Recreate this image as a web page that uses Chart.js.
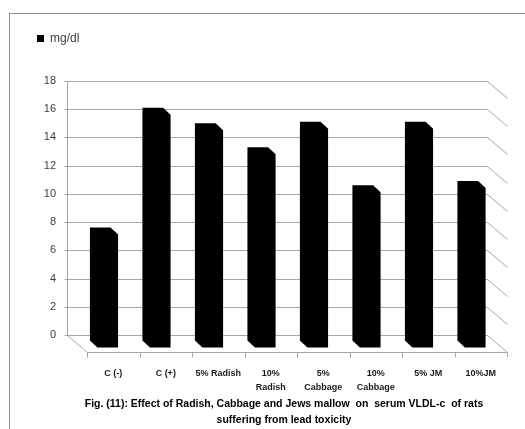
<!DOCTYPE html>
<html>
<head>
<meta charset="utf-8">
<title>Serum VLDL-c</title>
<script src="https://cdn.jsdelivr.net/npm/chart.js@4"></script>
<style>
  html, body { margin: 0; padding: 0; background: #fff; }
  #wrap { width: 525px; height: 429px; overflow: hidden; }
</style>
</head>
<body>
<div id="wrap"><canvas id="vldlChart" width="525" height="429"></canvas></div>
<script>
// groups on the x axis (arrays = two-line labels)
const groups = ['C (-)', 'C (+)', '5% Radish', ['10%', 'Radish'], ['5%', 'Cabbage'], ['10%', 'Cabbage'], '5% JM', '10%JM'];
// serum VLDL-c, mg/dl
const vldl = [8.0, 16.5, 15.4, 13.7, 15.5, 11.0, 15.5, 11.3];
const yTicks = [0, 2, 4, 6, 8, 10, 12, 14, 16, 18];
const seriesName = 'mg/dl';
const caption = [
    'Fig. (11): Effect of Radish, Cabbage and Jews mallow  on  serum VLDL-c  of rats',
    'suffering from lead toxicity'
];

const FONT = '"Liberation Sans", Arial, sans-serif';
const CAPTION_FONT = 'bold 10.5px "Liberation Sans", Arial, sans-serif';

// fake 3d: back wall sits up-left of the front edge of the floor
const WALL_DEPTH = { x: 20, y: 17 };
const BAR_SHIFT = { x: -13, y: 5.5 };   // back face of a column vs. its slot on the front
const BAR_DEPTH = { x: 7.5, y: 7 };
const LEGEND_GAP = 26.5;

const frame3d = {
    id: 'frame3d',
    beforeInit(chart) {
        // extra room under the legend
        const fit = chart.legend.fit;
        chart.legend.fit = function () { fit.call(this); this.height += LEGEND_GAP; };
    },
    beforeDraw(chart) {
        const ctx = chart.ctx;
        ctx.save();
        ctx.strokeStyle = '#8c8c8c';
        ctx.lineWidth = 1;
        ctx.strokeRect(9.5, 13.5, 600, 500);
        ctx.restore();
    },
    beforeDatasetsDraw(chart) {
        const { ctx, chartArea: a, scales: { x, y } } = chart;
        const px = v => Math.round(v) + 0.5;
        const bx0 = px(a.left - WALL_DEPTH.x), bx1 = px(a.right - WALL_DEPTH.x);
        const y0 = px(y.getPixelForValue(0));
        const yTop = px(y.getPixelForValue(yTicks[yTicks.length - 1]));
        const front = y0 + WALL_DEPTH.y;

        ctx.save();
        ctx.strokeStyle = '#a6a6a6';
        ctx.lineWidth = 1;
        ctx.beginPath();
        // gridlines on the back wall, folding forward at the right end
        y.ticks.forEach(t => {
            const yy = px(y.getPixelForValue(t.value));
            ctx.moveTo(bx0 - 3, yy);
            ctx.lineTo(bx1, yy);
            ctx.lineTo(px(a.right), yy + WALL_DEPTH.y);
        });
        // left edge of the wall
        ctx.moveTo(bx0, yTop);
        ctx.lineTo(bx0, y0);
        // floor
        ctx.moveTo(bx0, y0);
        ctx.lineTo(px(a.left), front);
        ctx.lineTo(px(a.right), front);
        for (let i = 0; i <= groups.length; i++) {
            const tx = px(x.getPixelForValue(i - 0.5));
            ctx.moveTo(tx, front);
            ctx.lineTo(tx, front + 5);
        }
        ctx.stroke();

        // columns
        ctx.fillStyle = chart.data.datasets[0].backgroundColor;
        chart.getDatasetMeta(0).data.forEach(bar => {
            const p = bar.getProps(['x', 'y', 'base', 'width'], true);
            const x0 = p.x - p.width / 2 + BAR_SHIFT.x, x1 = x0 + p.width;
            const t = p.y + BAR_SHIFT.y, b = p.base + BAR_SHIFT.y;
            const dx = BAR_DEPTH.x, dy = BAR_DEPTH.y;
            ctx.beginPath();
            ctx.moveTo(x0, t);
            ctx.lineTo(x1, t);
            ctx.lineTo(x1 + dx, t + dy);
            ctx.lineTo(x1 + dx, b + dy);
            ctx.lineTo(x0 + dx, b + dy);
            ctx.lineTo(x0, b);
            ctx.closePath();
            ctx.fill();
        });
        ctx.restore();
        return false;
    },
    afterDraw(chart) {
        const { ctx, chartArea: a } = chart;
        const cx = (a.left - WALL_DEPTH.x + a.right) / 2;
        ctx.save();
        ctx.font = CAPTION_FONT;
        ctx.fillStyle = '#000';
        ctx.textAlign = 'center';
        ctx.textBaseline = 'middle';
        caption.forEach((line, i) => ctx.fillText(line, cx - 3, 404 + i * 16.5));
        ctx.restore();
    }
};

new Chart(document.getElementById('vldlChart'), {
    type: 'bar',
    data: {
        labels: groups,
        datasets: [{
            label: seriesName,
            data: vldl,
            backgroundColor: '#000',
            barPercentage: 0.394,
            categoryPercentage: 1
        }]
    },
    options: {
        responsive: false,
        animation: false,
        layout: { padding: { left: 27, right: 18, top: 22.5, bottom: 0 } },
        plugins: {
            legend: {
                position: 'top',
                align: 'start',
                labels: { boxWidth: 7, boxHeight: 7, padding: 10, color: '#404040', font: { size: 12, family: FONT } }
            },
            tooltip: { enabled: false }
        },
        scales: {
            x: {
                grid: { display: false },
                border: { display: false },
                ticks: {
                    autoSkip: false, maxRotation: 0, padding: 24, color: '#1a1a1a',
                    font: { size: 9, weight: 'bold', family: FONT, lineHeight: 1.5 }
                },
                afterFit: s => { s.height = 94; }
            },
            y: {
                min: 0, max: 18,
                grid: { display: false },
                border: { display: false },
                ticks: { padding: 23, color: '#404040', font: { size: 11, family: FONT } },
                afterBuildTicks: s => { s.ticks = yTicks.map(v => ({ value: v })); },
                afterFit: s => { s.width = 60; }
            }
        }
    },
    plugins: [frame3d]
});
</script>
</body>
</html>
